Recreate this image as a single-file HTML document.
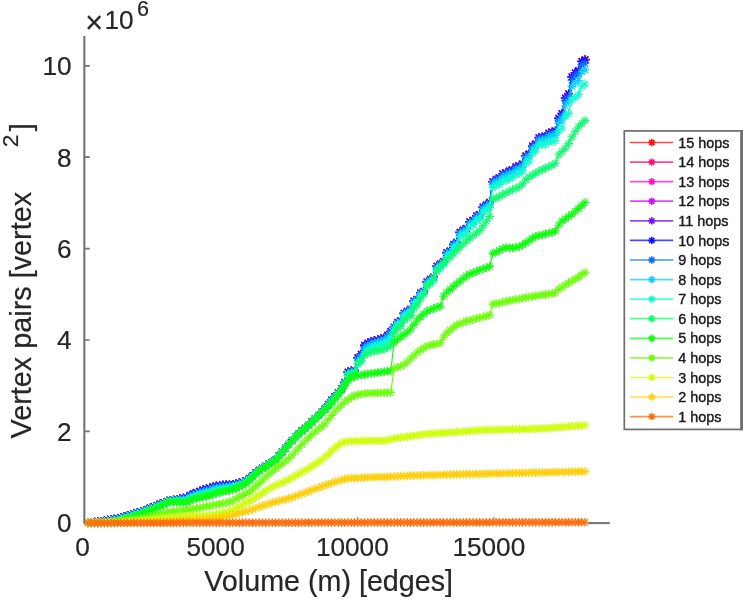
<!DOCTYPE html>
<html><head><meta charset="utf-8"><title>Vertex pairs vs volume</title>
<style>html,body{margin:0;padding:0;background:#fff}svg{display:block}text{font-family:"Liberation Sans",sans-serif;fill:#262626;stroke:#262626;stroke-width:0.2px}</style></head><body>
<svg width="743" height="600" viewBox="0 0 743 600">
<rect width="743" height="600" fill="#fff"/>
<defs>
<marker id="m1" markerWidth="12" markerHeight="12" refX="6" refY="6" markerUnits="userSpaceOnUse" viewBox="0 0 12 12"><path d="M1.60 6H10.40M6 1.60V10.40M2.89 2.89L9.11 9.11M2.89 9.11L9.11 2.89" stroke="#ff6e0d" stroke-width="1.1" fill="none"/></marker>
<marker id="m2" markerWidth="12" markerHeight="12" refX="6" refY="6" markerUnits="userSpaceOnUse" viewBox="0 0 12 12"><path d="M1.60 6H10.40M6 1.60V10.40M2.89 2.89L9.11 9.11M2.89 9.11L9.11 2.89" stroke="#ffcf0d" stroke-width="1.1" fill="none"/></marker>
<marker id="m3" markerWidth="12" markerHeight="12" refX="6" refY="6" markerUnits="userSpaceOnUse" viewBox="0 0 12 12"><path d="M1.60 6H10.40M6 1.60V10.40M2.89 2.89L9.11 9.11M2.89 9.11L9.11 2.89" stroke="#cfff0d" stroke-width="1.1" fill="none"/></marker>
<marker id="m4" markerWidth="12" markerHeight="12" refX="6" refY="6" markerUnits="userSpaceOnUse" viewBox="0 0 12 12"><path d="M1.60 6H10.40M6 1.60V10.40M2.89 2.89L9.11 9.11M2.89 9.11L9.11 2.89" stroke="#6eff0d" stroke-width="1.1" fill="none"/></marker>
<marker id="m5" markerWidth="12" markerHeight="12" refX="6" refY="6" markerUnits="userSpaceOnUse" viewBox="0 0 12 12"><path d="M1.60 6H10.40M6 1.60V10.40M2.89 2.89L9.11 9.11M2.89 9.11L9.11 2.89" stroke="#0dff0d" stroke-width="1.1" fill="none"/></marker>
<marker id="m6" markerWidth="12" markerHeight="12" refX="6" refY="6" markerUnits="userSpaceOnUse" viewBox="0 0 12 12"><path d="M1.60 6H10.40M6 1.60V10.40M2.89 2.89L9.11 9.11M2.89 9.11L9.11 2.89" stroke="#0dff6e" stroke-width="1.1" fill="none"/></marker>
<marker id="m7" markerWidth="12" markerHeight="12" refX="6" refY="6" markerUnits="userSpaceOnUse" viewBox="0 0 12 12"><path d="M1.60 6H10.40M6 1.60V10.40M2.89 2.89L9.11 9.11M2.89 9.11L9.11 2.89" stroke="#0dffcf" stroke-width="1.1" fill="none"/></marker>
<marker id="m8" markerWidth="12" markerHeight="12" refX="6" refY="6" markerUnits="userSpaceOnUse" viewBox="0 0 12 12"><path d="M1.60 6H10.40M6 1.60V10.40M2.89 2.89L9.11 9.11M2.89 9.11L9.11 2.89" stroke="#0dcfff" stroke-width="1.1" fill="none"/></marker>
<marker id="m9" markerWidth="12" markerHeight="12" refX="6" refY="6" markerUnits="userSpaceOnUse" viewBox="0 0 12 12"><path d="M1.60 6H10.40M6 1.60V10.40M2.89 2.89L9.11 9.11M2.89 9.11L9.11 2.89" stroke="#0d6eff" stroke-width="1.1" fill="none"/></marker>
<marker id="m10" markerWidth="12" markerHeight="12" refX="6" refY="6" markerUnits="userSpaceOnUse" viewBox="0 0 12 12"><path d="M1.60 6H10.40M6 1.60V10.40M2.89 2.89L9.11 9.11M2.89 9.11L9.11 2.89" stroke="#0d0dff" stroke-width="1.1" fill="none"/></marker>
<marker id="m11" markerWidth="12" markerHeight="12" refX="6" refY="6" markerUnits="userSpaceOnUse" viewBox="0 0 12 12"><path d="M1.60 6H10.40M6 1.60V10.40M2.89 2.89L9.11 9.11M2.89 9.11L9.11 2.89" stroke="#6e0dff" stroke-width="1.1" fill="none"/></marker>
<marker id="m12" markerWidth="12" markerHeight="12" refX="6" refY="6" markerUnits="userSpaceOnUse" viewBox="0 0 12 12"><path d="M1.60 6H10.40M6 1.60V10.40M2.89 2.89L9.11 9.11M2.89 9.11L9.11 2.89" stroke="#cf0dff" stroke-width="1.1" fill="none"/></marker>
<marker id="m13" markerWidth="12" markerHeight="12" refX="6" refY="6" markerUnits="userSpaceOnUse" viewBox="0 0 12 12"><path d="M1.60 6H10.40M6 1.60V10.40M2.89 2.89L9.11 9.11M2.89 9.11L9.11 2.89" stroke="#ff0dcf" stroke-width="1.1" fill="none"/></marker>
<marker id="m14" markerWidth="12" markerHeight="12" refX="6" refY="6" markerUnits="userSpaceOnUse" viewBox="0 0 12 12"><path d="M1.60 6H10.40M6 1.60V10.40M2.89 2.89L9.11 9.11M2.89 9.11L9.11 2.89" stroke="#ff0d6e" stroke-width="1.1" fill="none"/></marker>
<marker id="m15" markerWidth="12" markerHeight="12" refX="6" refY="6" markerUnits="userSpaceOnUse" viewBox="0 0 12 12"><path d="M1.60 6H10.40M6 1.60V10.40M2.89 2.89L9.11 9.11M2.89 9.11L9.11 2.89" stroke="#ff0d0d" stroke-width="1.1" fill="none"/></marker>
</defs>
<clipPath id="cp"><rect x="84.3" y="0" width="560" height="600"/></clipPath>
<filter id="bl" x="0" y="0" width="743" height="600" filterUnits="userSpaceOnUse"><feGaussianBlur stdDeviation="0.5"/></filter>
<g clip-path="url(#cp)"><g filter="url(#bl)">
<polyline points="87.9,522.5 91.2,522.3 94.5,522.0 97.8,521.7 101.1,521.3 104.4,520.8 107.6,520.2 110.9,519.7 114.2,519.1 117.5,518.6 120.8,517.6 124.1,516.6 127.4,515.6 130.7,514.6 134.0,513.7 137.3,512.7 140.6,511.7 143.9,510.5 147.2,509.2 150.4,507.9 153.7,506.6 157.0,505.2 160.3,503.9 163.6,502.6 166.9,501.2 170.2,500.3 173.5,499.8 176.8,499.3 180.1,498.7 183.4,498.2 186.7,497.7 190.0,495.3 193.3,493.5 196.5,492.3 199.8,491.1 203.1,489.9 206.4,488.9 209.7,487.9 213.0,486.9 216.3,485.9 219.6,485.5 222.9,485.2 226.2,484.9 229.5,484.6 232.8,484.4 236.1,483.8 239.3,482.9 242.6,482.0 245.9,480.8 249.2,478.2 252.5,475.4 255.8,472.6 259.1,470.1 262.4,468.0 265.7,465.9 269.0,463.8 272.3,461.7 275.6,459.4 278.9,455.6 282.1,451.8 285.4,448.0 288.7,444.2 292.0,440.4 295.3,436.7 298.6,433.8 301.9,430.8 305.2,427.9 308.5,424.9 311.8,421.8 315.1,418.6 318.4,415.3 321.7,412.1 325.0,408.8 328.2,404.3 331.5,399.9 334.8,396.6 338.1,392.6 341.4,388.6 344.7,382.1 348.0,371.9 351.3,370.9 354.6,370.3 357.9,357.6 361.2,354.0 364.5,345.1 367.8,342.9 371.0,341.5 374.3,340.6 377.6,339.7 380.9,338.7 384.2,337.7 387.5,335.0 390.8,331.1 394.1,326.9 397.4,322.1 400.7,320.4 404.0,313.0 407.3,311.0 410.6,308.8 413.9,300.8 417.1,299.0 420.4,292.7 423.7,290.9 427.0,281.6 430.3,279.0 433.6,276.7 436.9,265.9 440.2,263.6 443.5,261.1 446.8,252.3 450.1,250.6 453.4,244.2 456.7,241.9 459.9,232.0 463.2,229.6 466.5,228.1 469.8,221.5 473.1,220.0 476.4,215.5 479.7,214.2 483.0,206.8 486.3,204.4 489.6,201.9 492.9,181.4 496.2,179.0 499.5,177.7 502.7,173.5 506.0,172.8 509.3,170.5 512.6,169.9 515.9,166.6 519.2,165.9 522.5,163.6 525.8,155.6 529.1,153.5 532.4,145.8 535.7,143.6 539.0,137.3 542.3,136.7 545.5,136.2 548.8,132.9 552.1,131.8 555.4,130.7 558.7,118.0 562.0,113.2 565.3,97.8 568.6,93.4 571.9,76.7 575.2,72.5 578.5,70.2 581.8,61.1 585.1,59.4" fill="none" stroke="#ff0d0d" stroke-width="1.2" marker-start="url(#m15)" marker-mid="url(#m15)" marker-end="url(#m15)"/>
<polyline points="87.9,522.5 91.2,522.3 94.5,522.0 97.8,521.7 101.1,521.3 104.4,520.8 107.6,520.2 110.9,519.7 114.2,519.1 117.5,518.6 120.8,517.6 124.1,516.6 127.4,515.6 130.7,514.6 134.0,513.7 137.3,512.7 140.6,511.7 143.9,510.5 147.2,509.2 150.4,507.9 153.7,506.6 157.0,505.2 160.3,503.9 163.6,502.6 166.9,501.2 170.2,500.3 173.5,499.8 176.8,499.3 180.1,498.7 183.4,498.2 186.7,497.7 190.0,495.3 193.3,493.5 196.5,492.3 199.8,491.1 203.1,489.9 206.4,488.9 209.7,487.9 213.0,486.9 216.3,485.9 219.6,485.5 222.9,485.2 226.2,484.9 229.5,484.6 232.8,484.4 236.1,483.8 239.3,482.9 242.6,482.0 245.9,480.8 249.2,478.2 252.5,475.4 255.8,472.6 259.1,470.1 262.4,468.0 265.7,465.9 269.0,463.8 272.3,461.7 275.6,459.4 278.9,455.6 282.1,451.8 285.4,448.0 288.7,444.2 292.0,440.4 295.3,436.7 298.6,433.8 301.9,430.8 305.2,427.9 308.5,424.9 311.8,421.8 315.1,418.6 318.4,415.3 321.7,412.1 325.0,408.8 328.2,404.3 331.5,399.9 334.8,396.6 338.1,392.6 341.4,388.6 344.7,382.1 348.0,371.9 351.3,370.9 354.6,370.3 357.9,357.7 361.2,354.0 364.5,345.2 367.8,343.0 371.0,341.5 374.3,340.7 377.6,339.8 380.9,338.8 384.2,337.8 387.5,335.1 390.8,331.2 394.1,327.0 397.4,322.2 400.7,320.5 404.0,313.1 407.3,311.1 410.6,308.9 413.9,300.9 417.1,299.1 420.4,292.8 423.7,291.0 427.0,281.7 430.3,279.1 433.6,276.8 436.9,266.0 440.2,263.7 443.5,261.2 446.8,252.4 450.1,250.6 453.4,244.2 456.7,242.0 459.9,232.1 463.2,229.7 466.5,228.2 469.8,221.6 473.1,220.0 476.4,215.6 479.7,214.3 483.0,206.9 486.3,204.5 489.6,202.0 492.9,181.5 496.2,179.1 499.5,177.8 502.7,173.6 506.0,172.9 509.3,170.6 512.6,170.0 515.9,166.6 519.2,166.0 522.5,163.7 525.8,155.7 529.1,153.6 532.4,145.9 535.7,143.7 539.0,137.4 542.3,136.8 545.5,136.3 548.8,133.0 552.1,131.9 555.4,130.7 558.7,118.1 562.0,113.3 565.3,97.9 568.6,93.5 571.9,76.8 575.2,72.6 578.5,70.3 581.8,61.2 585.1,59.5" fill="none" stroke="#ff0d6e" stroke-width="1.2" marker-start="url(#m14)" marker-mid="url(#m14)" marker-end="url(#m14)"/>
<polyline points="87.9,522.5 91.2,522.3 94.5,522.0 97.8,521.7 101.1,521.3 104.4,520.8 107.6,520.2 110.9,519.7 114.2,519.1 117.5,518.6 120.8,517.6 124.1,516.6 127.4,515.6 130.7,514.6 134.0,513.7 137.3,512.7 140.6,511.7 143.9,510.5 147.2,509.2 150.4,507.9 153.7,506.6 157.0,505.2 160.3,503.9 163.6,502.6 166.9,501.2 170.2,500.3 173.5,499.8 176.8,499.3 180.1,498.7 183.4,498.2 186.7,497.7 190.0,495.3 193.3,493.5 196.5,492.3 199.8,491.1 203.1,489.9 206.4,488.9 209.7,487.9 213.0,486.9 216.3,485.9 219.6,485.5 222.9,485.2 226.2,484.9 229.5,484.6 232.8,484.4 236.1,483.8 239.3,482.9 242.6,482.0 245.9,480.8 249.2,478.2 252.5,475.4 255.8,472.6 259.1,470.1 262.4,468.0 265.7,465.9 269.0,463.8 272.3,461.7 275.6,459.4 278.9,455.6 282.1,451.8 285.4,448.0 288.7,444.2 292.0,440.4 295.3,436.7 298.6,433.8 301.9,430.8 305.2,427.9 308.5,424.9 311.8,421.8 315.1,418.6 318.4,415.3 321.7,412.1 325.0,408.8 328.2,404.3 331.5,399.9 334.8,396.6 338.1,392.7 341.4,388.7 344.7,382.2 348.0,371.9 351.3,370.9 354.6,370.4 357.9,357.7 361.2,354.1 364.5,345.2 367.8,343.0 371.0,341.6 374.3,340.7 377.6,339.8 380.9,338.8 384.2,337.8 387.5,335.1 390.8,331.3 394.1,327.1 397.4,322.3 400.7,320.5 404.0,313.2 407.3,311.1 410.6,309.0 413.9,301.0 417.1,299.2 420.4,292.9 423.7,291.1 427.0,281.8 430.3,279.1 433.6,276.9 436.9,266.1 440.2,263.8 443.5,261.3 446.8,252.5 450.1,250.7 453.4,244.3 456.7,242.1 459.9,232.2 463.2,229.8 466.5,228.3 469.8,221.7 473.1,220.1 476.4,215.7 479.7,214.4 483.0,207.0 486.3,204.6 489.6,202.1 492.9,181.6 496.2,179.2 499.5,177.9 502.7,173.7 506.0,173.0 509.3,170.7 512.6,170.1 515.9,166.7 519.2,166.1 522.5,163.8 525.8,155.7 529.1,153.7 532.4,146.0 535.7,143.7 539.0,137.5 542.3,136.9 545.5,136.4 548.8,133.1 552.1,132.0 555.4,130.8 558.7,118.2 562.0,113.4 565.3,98.0 568.6,93.6 571.9,76.8 575.2,72.7 578.5,70.4 581.8,61.3 585.1,59.6" fill="none" stroke="#ff0dcf" stroke-width="1.2" marker-start="url(#m13)" marker-mid="url(#m13)" marker-end="url(#m13)"/>
<polyline points="87.9,522.5 91.2,522.3 94.5,522.0 97.8,521.7 101.1,521.3 104.4,520.8 107.6,520.2 110.9,519.7 114.2,519.1 117.5,518.6 120.8,517.6 124.1,516.6 127.4,515.6 130.7,514.6 134.0,513.7 137.3,512.7 140.6,511.7 143.9,510.5 147.2,509.2 150.4,507.9 153.7,506.6 157.0,505.2 160.3,503.9 163.6,502.6 166.9,501.2 170.2,500.3 173.5,499.8 176.8,499.3 180.1,498.7 183.4,498.2 186.7,497.7 190.0,495.3 193.3,493.5 196.5,492.3 199.8,491.1 203.1,489.9 206.4,488.9 209.7,487.9 213.0,486.9 216.3,485.9 219.6,485.5 222.9,485.2 226.2,484.9 229.5,484.6 232.8,484.4 236.1,483.8 239.3,482.9 242.6,482.0 245.9,480.8 249.2,478.2 252.5,475.4 255.8,472.6 259.1,470.1 262.4,468.0 265.7,465.9 269.0,463.8 272.3,461.7 275.6,459.4 278.9,455.6 282.1,451.8 285.4,448.0 288.7,444.2 292.0,440.4 295.3,436.7 298.6,433.8 301.9,430.8 305.2,427.9 308.5,424.9 311.8,421.8 315.1,418.6 318.4,415.3 321.7,412.1 325.0,408.8 328.2,404.3 331.5,399.9 334.8,396.6 338.1,392.7 341.4,388.7 344.7,382.2 348.0,371.9 351.3,370.9 354.6,370.4 357.9,357.7 361.2,354.1 364.5,345.2 367.8,343.1 371.0,341.6 374.3,340.8 377.6,339.9 380.9,338.9 384.2,337.9 387.5,335.2 390.8,331.3 394.1,327.2 397.4,322.4 400.7,320.6 404.0,313.3 407.3,311.2 410.6,309.1 413.9,301.1 417.1,299.3 420.4,293.0 423.7,291.2 427.0,281.8 430.3,279.2 433.6,277.0 436.9,266.2 440.2,263.9 443.5,261.4 446.8,252.6 450.1,250.8 453.4,244.4 456.7,242.2 459.9,232.3 463.2,229.9 466.5,228.4 469.8,221.7 473.1,220.2 476.4,215.8 479.7,214.5 483.0,207.1 486.3,204.7 489.6,202.2 492.9,181.7 496.2,179.3 499.5,177.9 502.7,173.8 506.0,173.1 509.3,170.8 512.6,170.2 515.9,166.8 519.2,166.2 522.5,163.8 525.8,155.8 529.1,153.8 532.4,146.1 535.7,143.8 539.0,137.6 542.3,137.0 545.5,136.4 548.8,133.2 552.1,132.1 555.4,130.9 558.7,118.3 562.0,113.5 565.3,98.1 568.6,93.7 571.9,76.9 575.2,72.8 578.5,70.5 581.8,61.4 585.1,59.7" fill="none" stroke="#cf0dff" stroke-width="1.2" marker-start="url(#m12)" marker-mid="url(#m12)" marker-end="url(#m12)"/>
<polyline points="87.9,522.5 91.2,522.3 94.5,522.0 97.8,521.7 101.1,521.3 104.4,520.8 107.6,520.2 110.9,519.7 114.2,519.1 117.5,518.6 120.8,517.6 124.1,516.6 127.4,515.6 130.7,514.6 134.0,513.7 137.3,512.7 140.6,511.7 143.9,510.5 147.2,509.2 150.4,507.9 153.7,506.6 157.0,505.2 160.3,503.9 163.6,502.6 166.9,501.2 170.2,500.3 173.5,499.8 176.8,499.3 180.1,498.7 183.4,498.2 186.7,497.7 190.0,495.3 193.3,493.5 196.5,492.3 199.8,491.1 203.1,489.9 206.4,488.9 209.7,487.9 213.0,486.9 216.3,485.9 219.6,485.5 222.9,485.2 226.2,484.9 229.5,484.6 232.8,484.4 236.1,483.8 239.3,482.9 242.6,482.0 245.9,480.8 249.2,478.2 252.5,475.4 255.8,472.6 259.1,470.1 262.4,468.0 265.7,465.9 269.0,463.8 272.3,461.7 275.6,459.4 278.9,455.6 282.1,451.8 285.4,448.0 288.7,444.2 292.0,440.4 295.3,436.7 298.6,433.8 301.9,430.8 305.2,427.9 308.5,424.9 311.8,421.8 315.1,418.6 318.4,415.3 321.7,412.1 325.0,408.8 328.2,404.3 331.5,400.0 334.8,396.7 338.1,392.7 341.4,388.7 344.7,382.2 348.0,372.0 351.3,371.0 354.6,370.4 357.9,357.8 361.2,354.2 364.5,345.3 367.8,343.1 371.0,341.7 374.3,340.8 377.6,340.0 380.9,339.0 384.2,338.0 387.5,335.3 390.8,331.4 394.1,327.2 397.4,322.4 400.7,320.7 404.0,313.3 407.3,311.3 410.6,309.2 413.9,301.1 417.1,299.4 420.4,293.1 423.7,291.3 427.0,281.9 430.3,279.3 433.6,277.1 436.9,266.3 440.2,264.0 443.5,261.5 446.8,252.7 450.1,250.9 453.4,244.5 456.7,242.3 459.9,232.4 463.2,230.0 466.5,228.5 469.8,221.8 473.1,220.3 476.4,215.9 479.7,214.6 483.0,207.2 486.3,204.8 489.6,202.3 492.9,181.8 496.2,179.3 499.5,178.0 502.7,173.9 506.0,173.2 509.3,170.9 512.6,170.2 515.9,166.9 519.2,166.3 522.5,163.9 525.8,155.9 529.1,153.9 532.4,146.2 535.7,143.9 539.0,137.7 542.3,137.1 545.5,136.5 548.8,133.2 552.1,132.2 555.4,131.0 558.7,118.4 562.0,113.6 565.3,98.2 568.6,93.8 571.9,77.0 575.2,72.9 578.5,70.6 581.8,61.5 585.1,59.8" fill="none" stroke="#6e0dff" stroke-width="1.2" marker-start="url(#m11)" marker-mid="url(#m11)" marker-end="url(#m11)"/>
<polyline points="87.9,522.5 91.2,522.3 94.5,522.0 97.8,521.7 101.1,521.3 104.4,520.8 107.6,520.2 110.9,519.7 114.2,519.1 117.5,518.6 120.8,517.6 124.1,516.6 127.4,515.6 130.7,514.6 134.0,513.7 137.3,512.7 140.6,511.7 143.9,510.5 147.2,509.2 150.4,507.9 153.7,506.6 157.0,505.2 160.3,503.9 163.6,502.6 166.9,501.2 170.2,500.3 173.5,499.8 176.8,499.3 180.1,498.7 183.4,498.2 186.7,497.7 190.0,495.3 193.3,493.5 196.5,492.3 199.8,491.1 203.1,489.9 206.4,488.9 209.7,487.9 213.0,486.9 216.3,485.9 219.6,485.5 222.9,485.2 226.2,484.9 229.5,484.6 232.8,484.4 236.1,483.8 239.3,482.9 242.6,482.0 245.9,480.8 249.2,478.2 252.5,475.4 255.8,472.6 259.1,470.1 262.4,468.0 265.7,465.9 269.0,463.8 272.3,461.7 275.6,459.4 278.9,455.6 282.1,451.8 285.4,448.0 288.7,444.2 292.0,440.4 295.3,436.7 298.6,433.8 301.9,430.8 305.2,427.9 308.5,424.9 311.8,421.8 315.1,418.6 318.4,415.3 321.7,412.1 325.0,408.8 328.2,404.3 331.5,400.0 334.8,396.7 338.1,392.7 341.4,388.7 344.7,382.2 348.0,372.0 351.3,371.0 354.6,370.5 357.9,357.8 361.2,354.2 364.5,345.3 367.8,343.2 371.0,341.7 374.3,340.9 377.6,340.0 380.9,339.0 384.2,338.0 387.5,335.3 390.8,331.5 394.1,327.3 397.4,322.5 400.7,320.8 404.0,313.4 407.3,311.4 410.6,309.3 413.9,301.2 417.1,299.4 420.4,293.2 423.7,291.4 427.0,282.0 430.3,279.4 433.6,277.2 436.9,266.4 440.2,264.1 443.5,261.6 446.8,252.8 450.1,251.0 453.4,244.6 456.7,242.4 459.9,232.5 463.2,230.0 466.5,228.6 469.8,221.9 473.1,220.4 476.4,215.9 479.7,214.7 483.0,207.2 486.3,204.9 489.6,202.4 492.9,181.9 496.2,179.4 499.5,178.1 502.7,173.9 506.0,173.3 509.3,171.0 512.6,170.3 515.9,167.0 519.2,166.3 522.5,164.0 525.8,156.0 529.1,154.0 532.4,146.2 535.7,144.0 539.0,137.8 542.3,137.2 545.5,136.6 548.8,133.3 552.1,132.2 555.4,131.1 558.7,118.5 562.0,113.7 565.3,98.3 568.6,93.9 571.9,77.1 575.2,73.0 578.5,70.6 581.8,61.6 585.1,59.9" fill="none" stroke="#0d0dff" stroke-width="1.2" marker-start="url(#m10)" marker-mid="url(#m10)" marker-end="url(#m10)"/>
<polyline points="87.9,522.6 91.2,522.3 94.5,522.1 97.8,521.9 101.1,521.5 104.4,521.0 107.6,520.5 110.9,520.0 114.2,519.4 117.5,518.9 120.8,517.9 124.1,517.0 127.4,516.0 130.7,515.0 134.0,514.0 137.3,513.0 140.6,512.0 143.9,510.9 147.2,509.6 150.4,508.2 153.7,506.9 157.0,505.6 160.3,504.2 163.6,502.9 166.9,501.5 170.2,500.5 173.5,500.1 176.8,499.6 180.1,499.2 183.4,498.8 186.7,498.3 190.0,496.0 193.3,494.3 196.5,493.1 199.8,492.0 203.1,490.8 206.4,489.9 209.7,489.0 213.0,487.9 216.3,486.9 219.6,486.4 222.9,486.1 226.2,485.7 229.5,485.4 232.8,485.1 236.1,484.4 239.3,483.4 242.6,482.4 245.9,481.1 249.2,478.5 252.5,475.7 255.8,472.7 259.1,470.2 262.4,468.1 265.7,466.0 269.0,463.9 272.3,461.8 275.6,459.5 278.9,455.7 282.1,451.9 285.4,448.1 288.7,444.3 292.0,440.5 295.3,436.8 298.6,433.8 301.9,430.9 305.2,427.9 308.5,425.0 311.8,421.9 315.1,418.6 318.4,415.4 321.7,412.2 325.0,409.0 328.2,404.6 331.5,400.3 334.8,397.0 338.1,393.0 341.4,388.9 344.7,382.6 348.0,372.7 351.3,371.5 354.6,370.9 357.9,358.8 361.2,355.3 364.5,346.6 367.8,344.4 371.0,342.8 374.3,341.8 377.6,340.8 380.9,339.8 384.2,338.7 387.5,336.0 390.8,332.2 394.1,327.6 397.4,322.8 400.7,321.0 404.0,313.7 407.3,311.7 410.6,309.5 413.9,301.5 417.1,299.7 420.4,293.5 423.7,291.6 427.0,282.3 430.3,279.7 433.6,277.5 436.9,266.8 440.2,264.5 443.5,261.9 446.8,253.2 450.1,251.4 453.4,245.0 456.7,242.8 459.9,233.0 463.2,230.5 466.5,229.0 469.8,222.5 473.1,220.9 476.4,216.5 479.7,215.2 483.0,207.9 486.3,205.5 489.6,203.0 492.9,182.5 496.2,180.1 499.5,178.9 502.7,174.8 506.0,174.2 509.3,171.9 512.6,171.2 515.9,167.9 519.2,167.2 522.5,164.9 525.8,156.9 529.1,154.9 532.4,147.2 535.7,144.9 539.0,138.7 542.3,138.1 545.5,137.6 548.8,134.4 552.1,133.4 555.4,132.4 558.7,120.1 562.0,115.6 565.3,100.7 568.6,96.5 571.9,80.2 575.2,76.2 578.5,73.9 581.8,64.9 585.1,63.2" fill="none" stroke="#0d6eff" stroke-width="1.2" marker-start="url(#m9)" marker-mid="url(#m9)" marker-end="url(#m9)"/>
<polyline points="87.9,522.6 91.2,522.5 94.5,522.3 97.8,522.1 101.1,521.8 104.4,521.4 107.6,520.9 110.9,520.4 114.2,519.9 117.5,519.4 120.8,518.5 124.1,517.5 127.4,516.5 130.7,515.5 134.0,514.5 137.3,513.5 140.6,512.5 143.9,511.4 147.2,510.1 150.4,508.7 153.7,507.4 157.0,506.1 160.3,504.7 163.6,503.3 166.9,501.9 170.2,500.8 173.5,500.5 176.8,500.2 180.1,499.9 183.4,499.6 186.7,499.3 190.0,497.0 193.3,495.4 196.5,494.4 199.8,493.3 203.1,492.2 206.4,491.4 209.7,490.5 213.0,489.5 216.3,488.4 219.6,487.8 222.9,487.4 226.2,487.0 229.5,486.6 232.8,486.1 236.1,485.3 239.3,484.2 242.6,483.0 245.9,481.7 249.2,478.9 252.5,476.0 255.8,473.0 259.1,470.4 262.4,468.2 265.7,466.1 269.0,464.0 272.3,461.9 275.6,459.6 278.9,455.8 282.1,452.0 285.4,448.2 288.7,444.4 292.0,440.5 295.3,436.8 298.6,433.9 301.9,430.9 305.2,428.0 308.5,425.0 311.8,421.9 315.1,418.7 318.4,415.5 321.7,412.3 325.0,409.1 328.2,405.0 331.5,400.9 334.8,397.4 338.1,393.4 341.4,389.2 344.7,383.1 348.0,373.9 351.3,372.4 354.6,371.6 357.9,360.7 361.2,357.3 364.5,349.2 367.8,346.7 371.0,344.9 374.3,343.6 377.6,342.6 380.9,341.5 384.2,340.4 387.5,337.8 390.8,334.0 394.1,328.2 397.4,323.5 400.7,321.7 404.0,314.6 407.3,312.5 410.6,310.3 413.9,302.4 417.1,300.4 420.4,294.2 423.7,292.3 427.0,283.2 430.3,280.6 433.6,278.4 436.9,267.9 440.2,265.7 443.5,262.9 446.8,254.2 450.1,252.4 453.4,246.1 456.7,243.9 459.9,234.2 463.2,231.8 466.5,230.2 469.8,223.7 473.1,222.2 476.4,217.8 479.7,216.6 483.0,209.3 486.3,207.0 489.6,204.5 492.9,184.2 496.2,181.8 499.5,180.7 502.7,176.7 506.0,176.2 509.3,174.0 512.6,173.3 515.9,170.0 519.2,169.3 522.5,166.9 525.8,159.0 529.1,156.8 532.4,149.2 535.7,146.9 539.0,140.7 542.3,140.2 545.5,139.8 548.8,136.8 552.1,136.0 555.4,135.1 558.7,123.5 562.0,119.6 565.3,105.8 568.6,102.0 571.9,86.6 575.2,83.0 578.5,80.5 581.8,71.8 585.1,69.9" fill="none" stroke="#0dcfff" stroke-width="1.2" marker-start="url(#m8)" marker-mid="url(#m8)" marker-end="url(#m8)"/>
<polyline points="87.9,522.7 91.2,522.6 94.5,522.5 97.8,522.5 101.1,522.3 104.4,521.8 107.6,521.4 110.9,521.0 114.2,520.5 117.5,520.1 120.8,519.2 124.1,518.2 127.4,517.2 130.7,516.2 134.0,515.2 137.3,514.2 140.6,513.2 143.9,512.1 147.2,510.8 150.4,509.4 153.7,508.1 157.0,506.8 160.3,505.4 163.6,503.9 166.9,502.4 170.2,501.3 173.5,501.1 176.8,501.0 180.1,500.8 183.4,500.7 186.7,500.5 190.0,498.5 193.3,497.0 196.5,496.0 199.8,495.1 203.1,494.2 206.4,493.4 209.7,492.7 213.0,491.6 216.3,490.4 219.6,489.7 222.9,489.2 226.2,488.7 229.5,488.2 232.8,487.5 236.1,486.5 239.3,485.2 242.6,483.9 245.9,482.4 249.2,479.5 252.5,476.5 255.8,473.4 259.1,470.7 262.4,468.4 265.7,466.3 269.0,464.2 272.3,462.0 275.6,459.8 278.9,456.0 282.1,452.1 285.4,448.3 288.7,444.5 292.0,440.6 295.3,436.9 298.6,434.0 301.9,431.0 305.2,428.1 308.5,425.1 311.8,422.0 315.1,418.8 318.4,415.6 321.7,412.4 325.0,409.4 328.2,405.5 331.5,401.6 334.8,398.0 338.1,394.0 341.4,389.6 344.7,383.9 348.0,375.8 351.3,373.9 354.6,372.8 357.9,363.9 361.2,360.8 364.5,353.7 367.8,351.1 371.0,348.9 374.3,347.2 377.6,346.1 380.9,345.0 384.2,343.9 387.5,341.4 390.8,337.9 394.1,329.7 397.4,325.1 400.7,323.2 404.0,316.4 407.3,314.3 410.6,311.9 413.9,304.2 417.1,301.9 420.4,295.9 423.7,293.9 427.0,285.1 430.3,282.4 433.6,280.3 436.9,270.4 440.2,268.2 443.5,264.9 446.8,256.5 450.1,254.6 453.4,248.5 456.7,246.2 459.9,236.9 463.2,234.4 466.5,232.8 469.8,226.5 473.1,224.9 476.4,220.7 479.7,219.4 483.0,212.4 486.3,210.1 489.6,207.6 492.9,187.6 496.2,185.4 499.5,184.4 502.7,180.9 506.0,180.6 509.3,178.5 512.6,177.7 515.9,174.4 519.2,173.6 522.5,171.1 525.8,163.3 529.1,161.0 532.4,153.5 535.7,151.0 539.0,144.9 542.3,144.5 545.5,144.5 548.8,141.9 552.1,141.3 555.4,140.8 558.7,130.8 562.0,128.0 565.3,116.4 568.6,113.4 571.9,100.0 575.2,97.2 578.5,94.5 581.8,86.2 585.1,84.0" fill="none" stroke="#0dffcf" stroke-width="1.2" marker-start="url(#m7)" marker-mid="url(#m7)" marker-end="url(#m7)"/>
<polyline points="87.9,522.8 91.2,522.8 94.5,522.7 97.8,522.7 101.1,522.6 104.4,522.2 107.6,521.8 110.9,521.4 114.2,521.0 117.5,520.6 120.8,519.7 124.1,518.7 127.4,517.7 130.7,516.7 134.0,515.7 137.3,514.7 140.6,513.8 143.9,512.6 147.2,511.3 150.4,510.0 153.7,508.6 157.0,507.3 160.3,506.0 163.6,504.4 166.9,502.8 170.2,501.6 173.5,501.6 176.8,501.5 180.1,501.5 183.4,501.5 186.7,501.5 190.0,499.5 193.3,498.1 196.5,497.3 199.8,496.4 203.1,495.6 206.4,494.9 209.7,494.3 213.0,493.1 216.3,491.8 219.6,491.1 222.9,490.5 226.2,489.9 229.5,489.3 232.8,488.6 236.1,487.5 239.3,486.0 242.6,484.6 245.9,482.9 249.2,480.0 252.5,476.9 255.8,473.7 259.1,470.9 262.4,468.5 265.7,466.4 269.0,464.3 272.3,462.2 275.6,459.9 278.9,456.1 282.1,452.2 285.4,448.4 288.7,444.5 292.0,440.7 295.3,437.0 298.6,434.0 301.9,431.1 305.2,428.1 308.5,425.2 311.8,422.1 315.1,418.9 318.4,415.7 321.7,412.6 325.0,409.5 328.2,405.9 331.5,402.1 334.8,398.3 338.1,394.1 341.4,389.5 344.7,383.6 348.0,375.0 351.3,373.4 354.6,372.6 357.9,363.8 361.2,361.1 364.5,355.0 367.8,353.3 371.0,352.0 374.3,351.2 377.6,350.6 380.9,349.9 384.2,349.3 387.5,347.5 390.8,345.0 394.1,332.6 397.4,328.4 400.7,326.1 404.0,320.3 407.3,318.0 410.6,315.4 413.9,308.2 417.1,305.3 420.4,299.3 423.7,293.7 427.0,286.3 430.3,283.6 433.6,277.5 436.9,271.5 440.2,266.7 443.5,262.8 446.8,260.0 450.1,257.2 453.4,253.7 456.7,250.3 459.9,247.1 463.2,244.0 466.5,240.8 469.8,238.1 473.1,235.5 476.4,233.0 479.7,230.5 483.0,225.9 486.3,221.2 489.6,216.5 492.9,199.1 496.2,198.1 499.5,196.3 502.7,194.5 506.0,192.8 509.3,191.2 512.6,189.7 515.9,188.2 519.2,186.8 522.5,183.9 525.8,179.8 529.1,177.1 532.4,175.1 535.7,173.2 539.0,171.2 542.3,169.6 545.5,168.1 548.8,166.7 552.1,165.2 555.4,163.2 558.7,154.8 562.0,151.5 565.3,148.2 568.6,143.6 571.9,136.9 575.2,131.5 578.5,126.7 581.8,123.4 585.1,120.4" fill="none" stroke="#0dff6e" stroke-width="1.2" marker-start="url(#m6)" marker-mid="url(#m6)" marker-end="url(#m6)"/>
<polyline points="87.9,522.8 91.2,522.9 94.5,522.9 97.8,523.0 101.1,522.9 104.4,522.5 107.6,522.2 110.9,521.8 114.2,521.5 117.5,521.1 120.8,520.2 124.1,519.2 127.4,518.2 130.7,517.2 134.0,516.3 137.3,515.3 140.6,514.3 143.9,513.1 147.2,511.8 150.4,510.5 153.7,509.2 157.0,507.8 160.3,506.5 163.6,504.8 166.9,503.1 170.2,501.9 173.5,502.0 176.8,502.1 180.1,502.2 183.4,502.3 186.7,502.4 190.0,500.6 193.3,499.3 196.5,498.5 199.8,497.8 203.1,497.0 206.4,496.5 209.7,495.9 213.0,494.7 216.3,493.3 219.6,492.5 222.9,491.8 226.2,491.2 229.5,490.5 232.8,489.6 236.1,488.4 239.3,486.8 242.6,485.2 245.9,483.5 249.2,480.4 252.5,477.2 255.8,474.0 259.1,471.1 262.4,468.6 265.7,466.5 269.0,464.4 272.3,462.3 275.6,460.0 278.9,456.2 282.1,452.3 285.4,448.5 288.7,444.6 292.0,440.8 295.3,437.0 298.6,434.1 301.9,431.1 305.2,428.2 308.5,425.2 311.8,422.2 315.1,419.0 318.4,415.8 321.7,412.7 325.0,409.7 328.2,406.3 331.5,402.8 334.8,399.1 338.1,395.1 341.4,390.5 344.7,385.9 348.0,380.6 351.3,378.0 354.6,376.6 357.9,375.5 361.2,375.0 364.5,374.5 367.8,374.0 371.0,373.5 374.3,373.1 377.6,372.6 380.9,372.1 384.2,371.7 387.5,371.2 390.8,370.7 394.1,342.5 397.4,339.6 400.7,336.8 404.0,334.6 407.3,332.2 410.6,329.2 413.9,324.6 417.1,320.0 420.4,316.9 423.7,314.1 427.0,311.2 430.3,309.7 433.6,308.5 436.9,307.3 440.2,306.1 443.5,296.2 446.8,292.3 450.1,289.4 453.4,286.5 456.7,283.8 459.9,281.3 463.2,278.6 466.5,275.8 469.8,274.1 473.1,272.8 476.4,271.4 479.7,270.1 483.0,268.9 486.3,267.6 489.6,266.4 492.9,253.6 496.2,251.9 499.5,250.3 502.7,248.6 506.0,247.6 509.3,247.8 512.6,247.8 515.9,247.3 519.2,246.7 522.5,244.9 525.8,242.7 529.1,240.5 532.4,238.3 535.7,236.4 539.0,235.6 542.3,234.8 545.5,234.0 548.8,233.1 552.1,232.3 555.4,230.9 558.7,225.2 562.0,221.1 565.3,218.8 568.6,216.5 571.9,214.2 575.2,211.3 578.5,208.4 581.8,205.4 585.1,202.5" fill="none" stroke="#0dff0d" stroke-width="1.2" marker-start="url(#m5)" marker-mid="url(#m5)" marker-end="url(#m5)"/>
<polyline points="87.9,522.7 91.2,522.7 94.5,522.6 97.8,522.5 101.1,522.5 104.4,522.4 107.6,522.3 110.9,522.2 114.2,521.7 117.5,521.3 120.8,520.9 124.1,520.4 127.4,520.0 130.7,519.6 134.0,519.1 137.3,518.7 140.6,518.3 143.9,517.7 147.2,517.1 150.4,516.4 153.7,515.6 157.0,514.7 160.3,513.9 163.6,513.1 166.9,512.3 170.2,511.6 173.5,511.2 176.8,510.9 180.1,510.5 183.4,510.1 186.7,509.8 190.0,509.4 193.3,508.8 196.5,508.2 199.8,507.6 203.1,507.0 206.4,506.4 209.7,505.9 213.0,505.2 216.3,504.6 219.6,504.0 222.9,503.4 226.2,502.7 229.5,502.1 232.8,500.5 236.1,498.8 239.3,497.1 242.6,495.4 245.9,493.6 249.2,491.9 252.5,489.2 255.8,486.1 259.1,483.1 262.4,480.0 265.7,477.0 269.0,473.9 272.3,471.2 275.6,468.7 278.9,466.1 282.1,463.6 285.4,461.0 288.7,458.5 292.0,455.3 295.3,451.7 298.6,448.1 301.9,444.5 305.2,441.0 308.5,437.6 311.8,434.5 315.1,431.8 318.4,429.1 321.7,426.4 325.0,423.7 328.2,419.6 331.5,415.4 334.8,411.2 338.1,408.0 341.4,404.9 344.7,401.8 348.0,399.6 351.3,397.6 354.6,395.6 357.9,394.7 361.2,394.1 364.5,393.4 367.8,393.2 371.0,393.1 374.3,393.0 377.6,392.9 380.9,392.8 384.2,392.7 387.5,392.6 390.8,392.5 394.1,368.2 397.4,367.2 400.7,366.2 404.0,364.5 407.3,361.7 410.6,358.8 413.9,355.6 417.1,352.3 420.4,350.2 423.7,348.1 427.0,346.1 430.3,345.2 433.6,344.5 436.9,343.9 440.2,342.9 443.5,337.2 446.8,332.9 450.1,330.1 453.4,327.2 456.7,325.1 459.9,323.8 463.2,322.5 466.5,321.1 469.8,320.4 473.1,319.5 476.4,318.6 479.7,317.7 483.0,316.9 486.3,316.0 489.6,315.1 492.9,304.1 496.2,303.6 499.5,303.1 502.7,302.2 506.0,301.3 509.3,300.7 512.6,300.1 515.9,299.4 519.2,298.8 522.5,298.1 525.8,297.5 529.1,296.9 532.4,296.4 535.7,295.9 539.0,295.4 542.3,294.9 545.5,294.5 548.8,294.0 552.1,293.5 555.4,292.7 558.7,289.4 562.0,287.0 565.3,285.0 568.6,283.0 571.9,281.1 575.2,279.1 578.5,276.9 581.8,274.6 585.1,272.4" fill="none" stroke="#6eff0d" stroke-width="1.2" marker-start="url(#m4)" marker-mid="url(#m4)" marker-end="url(#m4)"/>
<polyline points="87.9,522.7 91.2,522.6 94.5,522.5 97.8,522.4 101.1,522.3 104.4,522.2 107.6,522.1 110.9,522.1 114.2,522.0 117.5,521.9 120.8,521.8 124.1,521.7 127.4,521.6 130.7,521.4 134.0,521.2 137.3,520.9 140.6,520.6 143.9,520.3 147.2,520.0 150.4,519.7 153.7,519.3 157.0,518.9 160.3,518.5 163.6,518.1 166.9,517.8 170.2,517.4 173.5,517.2 176.8,516.9 180.1,516.7 183.4,516.5 186.7,516.2 190.0,516.0 193.3,515.9 196.5,515.8 199.8,515.8 203.1,515.7 206.4,515.6 209.7,515.5 213.0,514.8 216.3,514.1 219.6,513.4 222.9,512.7 226.2,511.9 229.5,511.2 232.8,509.7 236.1,508.0 239.3,506.4 242.6,504.7 245.9,503.1 249.2,501.4 252.5,499.4 255.8,497.2 259.1,495.1 262.4,492.9 265.7,490.8 269.0,488.7 272.3,487.0 275.6,485.5 278.9,484.0 282.1,482.5 285.4,481.1 288.7,479.6 292.0,477.8 295.3,475.9 298.6,474.0 301.9,472.2 305.2,470.3 308.5,468.4 311.8,466.3 315.1,464.2 318.4,462.1 321.7,459.7 325.0,457.0 328.2,454.4 331.5,451.1 334.8,447.9 338.1,445.4 341.4,442.9 344.7,442.1 348.0,441.5 351.3,441.2 354.6,441.1 357.9,441.1 361.2,441.0 364.5,440.9 367.8,440.8 371.0,440.7 374.3,440.7 377.6,440.8 380.9,440.8 384.2,440.7 387.5,440.3 390.8,439.3 394.1,438.4 397.4,438.0 400.7,437.5 404.0,437.1 407.3,436.7 410.6,436.2 413.9,435.7 417.1,435.2 420.4,434.7 423.7,434.2 427.0,433.9 430.3,433.7 433.6,433.5 436.9,433.3 440.2,433.1 443.5,432.9 446.8,432.7 450.1,432.5 453.4,432.3 456.7,432.0 459.9,431.8 463.2,431.5 466.5,431.3 469.8,431.0 473.1,430.8 476.4,430.6 479.7,430.3 483.0,430.2 486.3,430.1 489.6,430.0 492.9,430.0 496.2,429.9 499.5,429.8 502.7,429.7 506.0,429.6 509.3,429.5 512.6,429.4 515.9,429.3 519.2,429.3 522.5,429.2 525.8,429.1 529.1,429.0 532.4,428.9 535.7,428.8 539.0,428.7 542.3,428.5 545.5,428.3 548.8,428.0 552.1,427.8 555.4,427.5 558.7,427.2 562.0,427.0 565.3,426.7 568.6,426.5 571.9,426.2 575.2,426.0 578.5,425.7 581.8,425.5 585.1,425.2" fill="none" stroke="#cfff0d" stroke-width="1.2" marker-start="url(#m3)" marker-mid="url(#m3)" marker-end="url(#m3)"/>
<polyline points="87.9,522.8 91.2,522.7 94.5,522.7 97.8,522.6 101.1,522.6 104.4,522.6 107.6,522.5 110.9,522.5 114.2,522.4 117.5,522.4 120.8,522.4 124.1,522.3 127.4,522.3 130.7,522.2 134.0,522.2 137.3,522.2 140.6,522.1 143.9,522.1 147.2,522.0 150.4,522.0 153.7,521.8 157.0,521.6 160.3,521.5 163.6,521.3 166.9,521.2 170.2,521.0 173.5,520.8 176.8,520.7 180.1,520.5 183.4,520.3 186.7,520.2 190.0,520.0 193.3,519.9 196.5,519.8 199.8,519.7 203.1,519.5 206.4,519.4 209.7,519.3 213.0,518.7 216.3,518.1 219.6,517.5 222.9,516.9 226.2,516.3 229.5,515.7 232.8,514.9 236.1,514.0 239.3,513.1 242.6,512.3 245.9,511.4 249.2,510.5 252.5,509.4 255.8,508.3 259.1,507.1 262.4,506.0 265.7,504.8 269.0,503.7 272.3,502.7 275.6,501.9 278.9,501.0 282.1,500.1 285.4,499.3 288.7,498.4 292.0,497.4 295.3,496.2 298.6,495.0 301.9,493.8 305.2,492.6 308.5,491.4 311.8,490.1 315.1,488.9 318.4,487.7 321.7,486.5 325.0,485.3 328.2,484.1 331.5,483.0 334.8,482.0 338.1,480.9 341.4,479.9 344.7,478.9 348.0,478.5 351.3,478.2 354.6,478.1 357.9,477.9 361.2,477.7 364.5,477.6 367.8,477.4 371.0,477.3 374.3,477.2 377.6,477.1 380.9,477.0 384.2,476.9 387.5,476.8 390.8,476.7 394.1,476.5 397.4,476.3 400.7,476.1 404.0,475.9 407.3,475.8 410.6,475.6 413.9,475.5 417.1,475.4 420.4,475.3 423.7,475.2 427.0,475.1 430.3,475.0 433.6,475.0 436.9,474.9 440.2,474.8 443.5,474.7 446.8,474.6 450.1,474.5 453.4,474.4 456.7,474.4 459.9,474.3 463.2,474.2 466.5,474.1 469.8,474.1 473.1,474.0 476.4,473.9 479.7,473.9 483.0,473.8 486.3,473.7 489.6,473.6 492.9,473.6 496.2,473.5 499.5,473.4 502.7,473.3 506.0,473.3 509.3,473.2 512.6,473.1 515.9,473.0 519.2,473.0 522.5,472.9 525.8,472.8 529.1,472.7 532.4,472.6 535.7,472.6 539.0,472.5 542.3,472.4 545.5,472.3 548.8,472.3 552.1,472.2 555.4,472.1 558.7,472.0 562.0,471.9 565.3,471.9 568.6,471.8 571.9,471.7 575.2,471.6 578.5,471.6 581.8,471.5 585.1,471.4" fill="none" stroke="#ffcf0d" stroke-width="1.2" marker-start="url(#m2)" marker-mid="url(#m2)" marker-end="url(#m2)"/>
<polyline points="87.9,523.0 91.2,523.0 94.5,523.0 97.8,523.0 101.1,523.0 104.4,523.0 107.6,523.0 110.9,523.0 114.2,523.0 117.5,522.9 120.8,522.9 124.1,522.9 127.4,522.9 130.7,522.9 134.0,522.9 137.3,522.9 140.6,522.9 143.9,522.9 147.2,522.9 150.4,522.9 153.7,522.9 157.0,522.9 160.3,522.9 163.6,522.9 166.9,522.9 170.2,522.9 173.5,522.9 176.8,522.9 180.1,522.8 183.4,522.8 186.7,522.8 190.0,522.8 193.3,522.8 196.5,522.8 199.8,522.8 203.1,522.8 206.4,522.8 209.7,522.8 213.0,522.8 216.3,522.8 219.6,522.8 222.9,522.8 226.2,522.8 229.5,522.8 232.8,522.8 236.1,522.8 239.3,522.8 242.6,522.7 245.9,522.7 249.2,522.7 252.5,522.7 255.8,522.7 259.1,522.7 262.4,522.7 265.7,522.7 269.0,522.7 272.3,522.7 275.6,522.7 278.9,522.7 282.1,522.7 285.4,522.7 288.7,522.7 292.0,522.7 295.3,522.7 298.6,522.7 301.9,522.7 305.2,522.6 308.5,522.6 311.8,522.6 315.1,522.6 318.4,522.6 321.7,522.6 325.0,522.6 328.2,522.6 331.5,522.6 334.8,522.6 338.1,522.6 341.4,522.6 344.7,522.6 348.0,522.6 351.3,522.6 354.6,522.6 357.9,522.6 361.2,522.6 364.5,522.6 367.8,522.5 371.0,522.5 374.3,522.5 377.6,522.5 380.9,522.5 384.2,522.5 387.5,522.5 390.8,522.5 394.1,522.5 397.4,522.5 400.7,522.5 404.0,522.5 407.3,522.5 410.6,522.5 413.9,522.5 417.1,522.5 420.4,522.5 423.7,522.5 427.0,522.5 430.3,522.4 433.6,522.4 436.9,522.4 440.2,522.4 443.5,522.4 446.8,522.4 450.1,522.4 453.4,522.4 456.7,522.4 459.9,522.4 463.2,522.4 466.5,522.4 469.8,522.4 473.1,522.4 476.4,522.4 479.7,522.4 483.0,522.4 486.3,522.4 489.6,522.4 492.9,522.3 496.2,522.3 499.5,522.3 502.7,522.3 506.0,522.3 509.3,522.3 512.6,522.3 515.9,522.3 519.2,522.3 522.5,522.3 525.8,522.3 529.1,522.3 532.4,522.3 535.7,522.3 539.0,522.3 542.3,522.3 545.5,522.3 548.8,522.3 552.1,522.3 555.4,522.2 558.7,522.2 562.0,522.2 565.3,522.2 568.6,522.2 571.9,522.2 575.2,522.2 578.5,522.2 581.8,522.2 585.1,522.2" fill="none" stroke="#ff6e0d" stroke-width="1.2" marker-start="url(#m1)" marker-mid="url(#m1)" marker-end="url(#m1)"/>
</g></g>
<g stroke="#727272" stroke-width="2.1" fill="none">
<path d="M84.35 36V523.8"/>
</g>
<g stroke="#727272" stroke-width="1.7" fill="none">
<path d="M588.3 523.1H609.8" stroke-width="2"/>
<path d="M84.35 431.4h5.4M84.35 340.0h5.4M84.35 248.6h5.4M84.35 157.2h5.4M84.35 65.8h5.4"/>
</g>
<g stroke="#5a5a5a" stroke-width="1" fill="none">
<path d="M357.6 518.6999999999999v-1.6M494.1 518.6999999999999v-1.6"/>
</g>
<g font-size="26.2">
<text x="71.7" y="532.2" text-anchor="end">0</text>
<text x="71.7" y="440.8" text-anchor="end">2</text>
<text x="71.7" y="349.4" text-anchor="end">4</text>
<text x="71.7" y="258.0" text-anchor="end">6</text>
<text x="71.7" y="166.6" text-anchor="end">8</text>
<text x="71.7" y="75.2" text-anchor="end">10</text>
<text x="82.6" y="556.4" text-anchor="middle">0</text>
<text x="215.6" y="556.4" text-anchor="middle">5000</text>
<text x="352.3" y="556.4" text-anchor="middle">10000</text>
<text x="488.8" y="556.4" text-anchor="middle">15000</text>
<text x="85.2" y="33.1" font-size="30.5">×</text>
<text x="104.5" y="29.4">10</text>
</g>
<text x="136.9" y="16.0" font-size="21.6">6</text>
<text x="204.3" y="591.3" font-size="28.7">Volume (m) [edges]</text>
<text transform="translate(30.8 438.4) rotate(-90)" font-size="28.8">Vertex pairs [vertex</text>
<text transform="translate(17.5 147.2) rotate(-90)" font-size="22.8">2</text>
<text transform="translate(30.8 131.2) rotate(-90)" font-size="28.8">]</text>
<rect x="624.3" y="130.9" width="117.30000000000007" height="298.5" fill="#fff" stroke="#6e6e6e" stroke-width="1.7"/>
<path d="M741.6 130.1V430.2" stroke="#6a6a6a" stroke-width="2.6"/>
<path d="M629.9 142.5H673.3" stroke="#ff0d0d" stroke-opacity="0.75" stroke-width="1.7" fill="none"/>
<path d="M648.10 142.5H655.50M651.8 138.80V146.20M649.18 139.88L654.42 145.12M649.18 145.12L654.42 139.88" stroke="#ff0d0d" stroke-width="1.5" fill="none"/>
<text x="678.3" y="147.6" font-size="14.4" style="fill:#1a1a1a;stroke:#1a1a1a;stroke-width:0.4">15 hops</text>
<path d="M629.9 162.1H673.3" stroke="#ff0d6e" stroke-opacity="0.75" stroke-width="1.7" fill="none"/>
<path d="M648.10 162.1H655.50M651.8 158.38V165.78M649.18 159.46L654.42 164.70M649.18 164.70L654.42 159.46" stroke="#ff0d6e" stroke-width="1.5" fill="none"/>
<text x="678.3" y="167.2" font-size="14.4" style="fill:#1a1a1a;stroke:#1a1a1a;stroke-width:0.4">14 hops</text>
<path d="M629.9 181.7H673.3" stroke="#ff0dcf" stroke-opacity="0.75" stroke-width="1.7" fill="none"/>
<path d="M648.10 181.7H655.50M651.8 177.96V185.36M649.18 179.04L654.42 184.28M649.18 184.28L654.42 179.04" stroke="#ff0dcf" stroke-width="1.5" fill="none"/>
<text x="678.3" y="186.8" font-size="14.4" style="fill:#1a1a1a;stroke:#1a1a1a;stroke-width:0.4">13 hops</text>
<path d="M629.9 201.2H673.3" stroke="#cf0dff" stroke-opacity="0.75" stroke-width="1.7" fill="none"/>
<path d="M648.10 201.2H655.50M651.8 197.54V204.94M649.18 198.62L654.42 203.86M649.18 203.86L654.42 198.62" stroke="#cf0dff" stroke-width="1.5" fill="none"/>
<text x="678.3" y="206.3" font-size="14.4" style="fill:#1a1a1a;stroke:#1a1a1a;stroke-width:0.4">12 hops</text>
<path d="M629.9 220.8H673.3" stroke="#6e0dff" stroke-opacity="0.75" stroke-width="1.7" fill="none"/>
<path d="M648.10 220.8H655.50M651.8 217.12V224.52M649.18 218.20L654.42 223.44M649.18 223.44L654.42 218.20" stroke="#6e0dff" stroke-width="1.5" fill="none"/>
<text x="678.3" y="225.9" font-size="14.4" style="fill:#1a1a1a;stroke:#1a1a1a;stroke-width:0.4">11 hops</text>
<path d="M629.9 240.4H673.3" stroke="#0d0dff" stroke-opacity="0.75" stroke-width="1.7" fill="none"/>
<path d="M648.10 240.4H655.50M651.8 236.70V244.10M649.18 237.78L654.42 243.02M649.18 243.02L654.42 237.78" stroke="#0d0dff" stroke-width="1.5" fill="none"/>
<text x="678.3" y="245.5" font-size="14.4" style="fill:#1a1a1a;stroke:#1a1a1a;stroke-width:0.4">10 hops</text>
<path d="M629.9 260.0H673.3" stroke="#0d6eff" stroke-opacity="0.75" stroke-width="1.7" fill="none"/>
<path d="M648.10 260.0H655.50M651.8 256.28V263.68M649.18 257.36L654.42 262.60M649.18 262.60L654.42 257.36" stroke="#0d6eff" stroke-width="1.5" fill="none"/>
<text x="678.3" y="265.1" font-size="14.4" style="fill:#1a1a1a;stroke:#1a1a1a;stroke-width:0.4">9 hops</text>
<path d="M629.9 279.6H673.3" stroke="#0dcfff" stroke-opacity="0.75" stroke-width="1.7" fill="none"/>
<path d="M648.10 279.6H655.50M651.8 275.86V283.26M649.18 276.94L654.42 282.18M649.18 282.18L654.42 276.94" stroke="#0dcfff" stroke-width="1.5" fill="none"/>
<text x="678.3" y="284.7" font-size="14.4" style="fill:#1a1a1a;stroke:#1a1a1a;stroke-width:0.4">8 hops</text>
<path d="M629.9 299.1H673.3" stroke="#0dffcf" stroke-opacity="0.75" stroke-width="1.7" fill="none"/>
<path d="M648.10 299.1H655.50M651.8 295.44V302.84M649.18 296.52L654.42 301.76M649.18 301.76L654.42 296.52" stroke="#0dffcf" stroke-width="1.5" fill="none"/>
<text x="678.3" y="304.2" font-size="14.4" style="fill:#1a1a1a;stroke:#1a1a1a;stroke-width:0.4">7 hops</text>
<path d="M629.9 318.7H673.3" stroke="#0dff6e" stroke-opacity="0.75" stroke-width="1.7" fill="none"/>
<path d="M648.10 318.7H655.50M651.8 315.02V322.42M649.18 316.10L654.42 321.34M649.18 321.34L654.42 316.10" stroke="#0dff6e" stroke-width="1.5" fill="none"/>
<text x="678.3" y="323.8" font-size="14.4" style="fill:#1a1a1a;stroke:#1a1a1a;stroke-width:0.4">6 hops</text>
<path d="M629.9 338.3H673.3" stroke="#0dff0d" stroke-opacity="0.75" stroke-width="1.7" fill="none"/>
<path d="M648.10 338.3H655.50M651.8 334.60V342.00M649.18 335.68L654.42 340.92M649.18 340.92L654.42 335.68" stroke="#0dff0d" stroke-width="1.5" fill="none"/>
<text x="678.3" y="343.4" font-size="14.4" style="fill:#1a1a1a;stroke:#1a1a1a;stroke-width:0.4">5 hops</text>
<path d="M629.9 357.9H673.3" stroke="#6eff0d" stroke-opacity="0.75" stroke-width="1.7" fill="none"/>
<path d="M648.10 357.9H655.50M651.8 354.18V361.58M649.18 355.26L654.42 360.50M649.18 360.50L654.42 355.26" stroke="#6eff0d" stroke-width="1.5" fill="none"/>
<text x="678.3" y="363.0" font-size="14.4" style="fill:#1a1a1a;stroke:#1a1a1a;stroke-width:0.4">4 hops</text>
<path d="M629.9 377.5H673.3" stroke="#cfff0d" stroke-opacity="0.75" stroke-width="1.7" fill="none"/>
<path d="M648.10 377.5H655.50M651.8 373.76V381.16M649.18 374.84L654.42 380.08M649.18 380.08L654.42 374.84" stroke="#cfff0d" stroke-width="1.5" fill="none"/>
<text x="678.3" y="382.6" font-size="14.4" style="fill:#1a1a1a;stroke:#1a1a1a;stroke-width:0.4">3 hops</text>
<path d="M629.9 397.0H673.3" stroke="#ffcf0d" stroke-opacity="0.75" stroke-width="1.7" fill="none"/>
<path d="M648.10 397.0H655.50M651.8 393.34V400.74M649.18 394.42L654.42 399.66M649.18 399.66L654.42 394.42" stroke="#ffcf0d" stroke-width="1.5" fill="none"/>
<text x="678.3" y="402.1" font-size="14.4" style="fill:#1a1a1a;stroke:#1a1a1a;stroke-width:0.4">2 hops</text>
<path d="M629.9 416.6H673.3" stroke="#ff6e0d" stroke-opacity="0.75" stroke-width="1.7" fill="none"/>
<path d="M648.10 416.6H655.50M651.8 412.92V420.32M649.18 414.00L654.42 419.24M649.18 419.24L654.42 414.00" stroke="#ff6e0d" stroke-width="1.5" fill="none"/>
<text x="678.3" y="421.7" font-size="14.4" style="fill:#1a1a1a;stroke:#1a1a1a;stroke-width:0.4">1 hops</text>
</svg></body></html>
